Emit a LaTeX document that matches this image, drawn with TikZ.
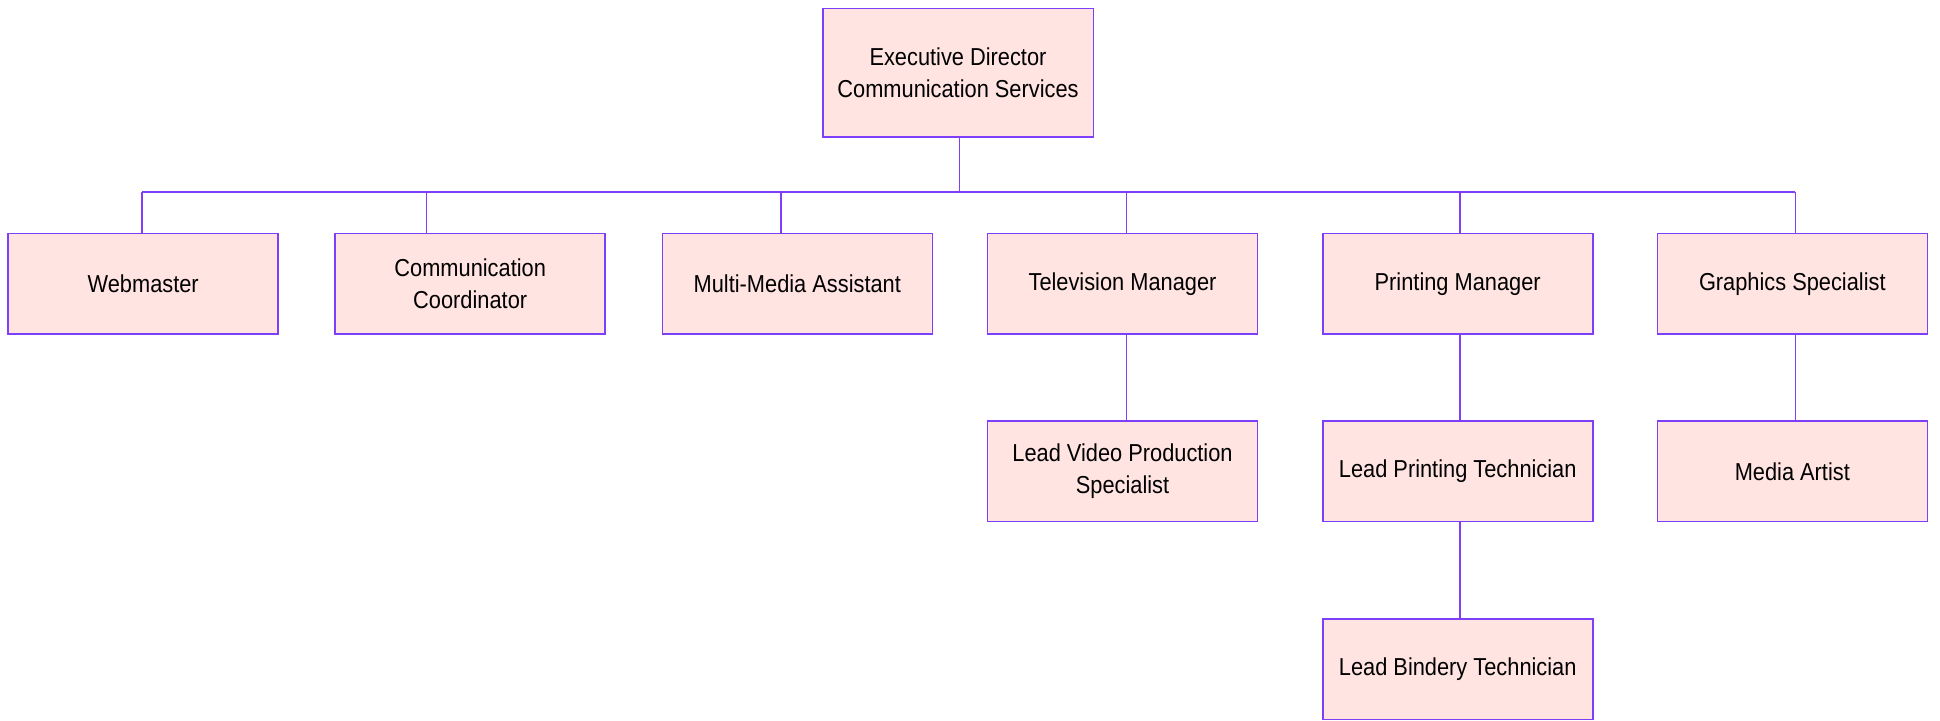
\documentclass[tikz,border=0pt]{standalone}
\usepackage{fontspec}
\setmainfont{Liberation Sans}[FakeStretch=0.89]
\definecolor{linecol}{RGB}{127,63,250}
\definecolor{boxfill}{RGB}{255,228,225}
\begin{document}
\begin{tikzpicture}[x=1pt,y=-1pt,
  box/.style={draw=linecol, line width=1.6pt, fill=boxfill, rectangle,
    minimum width=270pt, minimum height=100.5pt, inner sep=0pt, align=center,
    font=\fontsize{24.5}{32}\selectfont, text=black},
  conn/.style={draw=linecol, line width=1.6pt}]
\useasboundingbox (0,0) rectangle (1940,720);
\fill[white] (0,0) rectangle (1940,720);
% nodes
\node[box, minimum width=270.6pt, minimum height=128.4pt] (exec) at (958,72.5) {Executive Director\\Communication Services};
\node[box] (web)  at (143.2,283.7)  {Webmaster};
\node[box] (comm) at (470.2,283.7)  {Communication\\Coordinator};
\node[box] (mm)   at (797.3,283.7)  {Multi-Media Assistant};
\node[box] (tv)   at (1122.5,283.7) {Television Manager};
\node[box] (pm)   at (1457.7,283.7) {Printing Manager};
\node[box] (gs)   at (1792.3,283.7) {Graphics Specialist};
\node[box] (lvp)  at (1122.5,471.3) {Lead Video Production\\Specialist};
\node[box] (lpt)  at (1457.7,471.3) {Lead Printing Technician};
\node[box] (ma)   at (1792.3,471.3) {Media Artist};
\node[box] (lbt)  at (1457.7,669.3) {Lead Bindery Technician};
% bus coordinates
\coordinate (bx) at (959.3,191.7);
\coordinate (b1) at (142,191.7);
\coordinate (b2) at (426.3,191.7);
\coordinate (b3) at (780.7,191.7);
\coordinate (b4) at (1126.3,191.7);
\coordinate (b5) at (1460,191.7);
\coordinate (b6) at (1795.3,191.7);
% connectors
\draw[conn] (bx |- exec.south) -- (bx);
\draw[conn] (b1) -- (b6);
\draw[conn] (b1) -- (b1 |- web.north);
\draw[conn] (b2) -- (b2 |- comm.north);
\draw[conn] (b3) -- (b3 |- mm.north);
\draw[conn] (b4) -- (b4 |- tv.north);
\draw[conn] (b5) -- (b5 |- pm.north);
\draw[conn] (b6) -- (b6 |- gs.north);
\draw[conn] (b4 |- tv.south) -- (b4 |- lvp.north);
\draw[conn] (b5 |- pm.south) -- (b5 |- lpt.north);
\draw[conn] (b5 |- lpt.south) -- (b5 |- lbt.north);
\draw[conn] (b6 |- gs.south) -- (b6 |- ma.north);
\end{tikzpicture}
\end{document}
